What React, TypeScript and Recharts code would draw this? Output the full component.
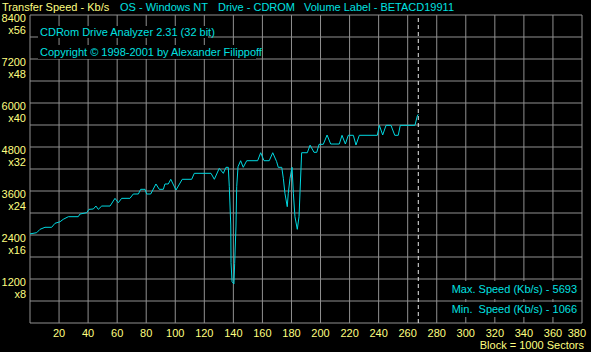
import { LineChart, Line, XAxis, YAxis, CartesianGrid, ReferenceLine } from "recharts";

// block number (1 block = 1000 sectors)
const blocks = [
    0, 4.6, 6.9, 10.3, 14.9, 17.2, 20.7, 22.9, 26.4, 33.2, 34.4, 39.0, 40.6, 43.6, 45.4, 47.0, 49.4, 55.1,
    58.5, 60.8, 63.1, 68.8, 71.1, 74.6, 76.2, 79.2, 80.3, 83.1, 86.7, 89.0, 91.8, 92.9, 95.2, 96.9, 100.5,
    104.8, 111.3, 113.1, 124.6, 126.9, 130.3, 133.1, 134.9, 136.5, 137.2, 138.2, 138.4, 139.1, 140.4, 140.9,
    141.8, 142.3, 143.2, 145.0, 146.8, 149.2, 156.7, 158.8, 161.1, 164.7, 167.1, 169.8, 170.9, 173.3, 174.4,
    175.5, 177.1, 177.8, 179.0, 180.4, 181.3, 182.4, 184.0, 185.2, 185.9, 187.0, 190.9, 192.8, 195.5, 197.4,
    199.0, 201.9, 204.5, 207.0, 212.9, 214.8, 217.1, 219.1, 222.6, 224.4, 226.7, 239.1, 240.5, 242.8, 245.1,
    248.5, 251.1, 253.5, 254.9, 265.0, 266.6, 267.3,
];

// transfer speed, Kb/s
const speeds = [
    2430, 2463, 2555, 2610, 2610, 2719, 2762, 2828, 2899, 2899, 2972, 3008, 3100, 3109, 3190, 3100, 3190, 3190,
    3400, 3281, 3400, 3400, 3518, 3518, 3646, 3646, 3518, 3518, 3791, 3646, 3646, 3791, 3791, 3919, 3627,
    3919, 3919, 4082, 4082, 3919, 4219, 4082, 4246, 4246, 3717, 2672, 1644, 1126, 1066, 1628,
    2645, 3717, 4262, 4426, 4246, 4426, 4426, 4644, 4426, 4426, 4644, 4399, 4246, 4246, 3946,
    3537, 3172, 3537, 3946, 4246, 3537, 2899, 2555, 2899, 3581, 4644, 4644, 4850, 4655, 4655,
    4873, 4873, 5127, 4881, 4881, 5119, 4881, 5119, 5119, 4854, 5119, 5119, 5391, 5127, 5391,
    5391, 5119, 5119, 5391, 5391, 5645, 5693,
];

const xTicks = [0, 20, 40, 60, 80, 100, 120, 140, 160, 180, 200, 220, 240, 260, 280, 300, 320, 340, 360, 380];
const yTicks = [0, 600, 1200, 1800, 2400, 3000, 3600, 4200, 4800, 5400, 6000, 6600, 7200, 7800, 8400];
const endBlock = 267.3;

const data = blocks.map((b, i) => ({ b, s: speeds[i] }));

const YELLOW = "#ffff80";
const CYAN = "#00e0e0";
const GRID = "#909090";
const FONT = "'Liberation Sans', Arial, sans-serif";

const XTick = ({ x, y, payload }: any) => {
    if (payload.value === 0) return null;
    const last = payload.value === 380;
    return (
        <text x={last ? x + 4 : x} y={y + 6} textAnchor={last ? "end" : "middle"} fill={YELLOW} fontSize={11} fontFamily={FONT}>
            {payload.value}
        </text>
    );
};

const YTick = ({ y, payload }: any) => {
    if (payload.value === 0 || payload.value % 1200 !== 0) return null;
    return (
        <g>
            <text x={26} y={y + 7} textAnchor="end" fill={YELLOW} fontSize={11} fontFamily={FONT}>
                {payload.value}
            </text>
            <text x={26} y={y + 19} textAnchor="end" fill={YELLOW} fontSize={11} fontFamily={FONT}>
                x{payload.value / 150}
            </text>
        </g>
    );
};

export default function App() {
    return (
        <div style={{ position: "absolute", left: 0, top: 0, width: 591, height: 352, background: "#000", overflow: "hidden" }}>
            <LineChart width={591} height={352} data={data} margin={{ top: 15, right: 9, left: 0, bottom: 0 }}>
                <CartesianGrid stroke={GRID} strokeWidth={1} />
                <XAxis dataKey="b" type="number" domain={[0, 380]} ticks={xTicks} height={29}
                    axisLine={false} tickLine={false} tick={<XTick />} interval={0} />
                <YAxis type="number" domain={[0, 8400]} ticks={yTicks} width={30}
                    axisLine={false} tickLine={false} tick={<YTick />} interval={0} />
                <ReferenceLine x={endBlock} stroke="#e8e8e8" strokeDasharray="4 3" />
                <Line type="linear" dataKey="s" stroke="#00d8e0" strokeWidth={1} dot={false} isAnimationActive={false} />
            </LineChart>

            <svg width={591} height={352} style={{ position: "absolute", left: 0, top: 0, pointerEvents: "none" }}>
                <g fontFamily={FONT} fontSize={11}>
                    <text x={2} y={11} fill={YELLOW}>Transfer Speed - Kb/s</text>
                    <text x={120} y={11} fill={CYAN}>OS - Windows NT</text>
                    <text x={218} y={11} fill={CYAN}>Drive - CDROM</text>
                    <text x={304} y={11} fill={CYAN}>Volume Label - BETACD19911</text>

                    <rect x={38} y={26} width={170} height={12} fill="#000" />
                    <text x={40} y={36} fill={CYAN}>CDRom Drive Analyzer 2.31 (32 bit)</text>
                    <rect x={38} y={45} width={218} height={14} fill="#000" />
                    <text x={40} y={56} fill={CYAN}>Copyright © 1998-2001 by Alexander Filippoff</text>

                    <rect x={445} y={281} width={136} height={18} fill="#000" />
                    <text x={577} y={293} fill={CYAN} textAnchor="end">Max. Speed (Kb/s) - 5693</text>
                    <rect x={445} y={302} width={136} height={15} fill="#000" />
                    <text x={577} y={313} fill={CYAN} textAnchor="end" style={{ whiteSpace: "pre" }}>Min.  Speed (Kb/s) - 1066</text>

                    <text x={584} y={349} fill={YELLOW} textAnchor="end">Block = 1000 Sectors</text>
                </g>
            </svg>
        </div>
    );
}
